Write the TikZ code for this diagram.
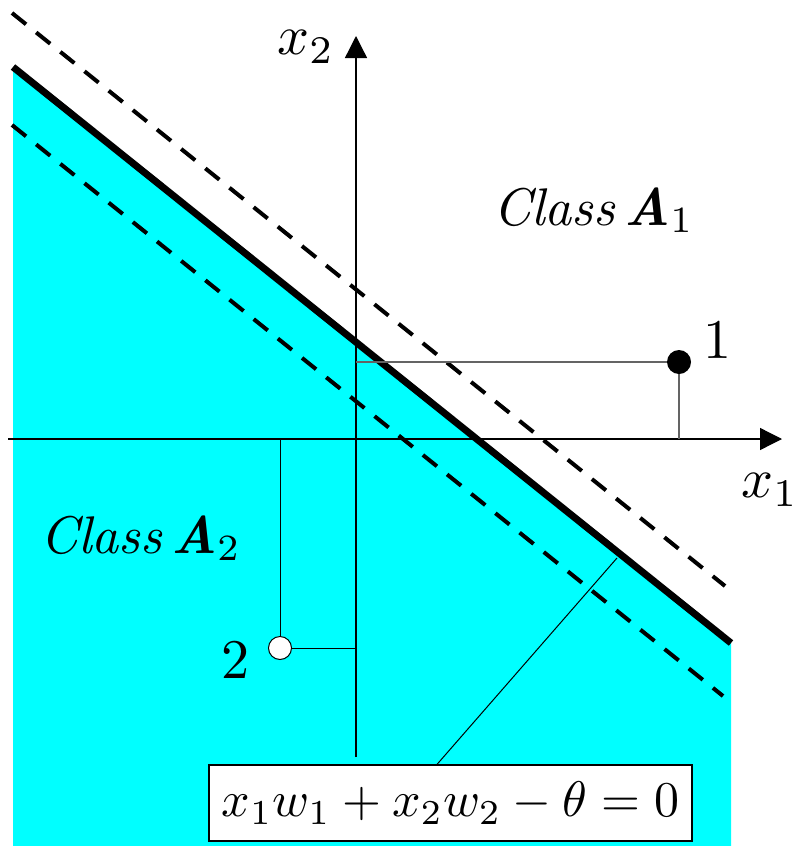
\documentclass[tikz,border=0pt]{standalone}
\usetikzlibrary{arrows.meta}
\definecolor{aqua}{RGB}{0,255,255}
\definecolor{guide}{RGB}{100,100,100}
\newcommand{\bigtxt}[1]{\scalebox{5.6}{#1}}
\begin{document}
\begin{tikzpicture}[x=1pt,y=-1pt,
  lbl/.style={inner sep=0pt},
  axis/.style={line width=1.3pt, -{Triangle[length=22pt,width=22pt]}},
  boundary/.style={line width=7pt},
  margin/.style={line width=4pt, dash pattern=on 18pt off 13pt},
  guideline/.style={line width=1.3pt},
  thin/.style={line width=1pt}]
\useasboundingbox (0,0) rectangle (796,846);
% class A2 region
\fill[aqua] (13,67) -- (731,643) -- (731,846) -- (13,846) -- cycle;
% coordinates
\coordinate (xl) at (8,439);
\coordinate (xr) at (782,439);
\coordinate (yb) at (356,757);
\coordinate (yt) at (356,36);
\coordinate (b1) at (13,67);
\coordinate (b2) at (731,643);
\coordinate (u1) at (12,13);
\coordinate (u2) at (725,586);
\coordinate (d1) at (12,125);
\coordinate (d2) at (723,696);
\coordinate (hit) at (617,558);
% lines
\draw[margin] (u1) -- (u2);
\draw[margin] (d1) -- (d2);
\draw[boundary] (b1) -- (b2);
\draw[axis] (xl) -- (xr);
\draw[axis] (yb) -- (yt);
% point 1
\node[circle, fill=black, minimum size=24pt, inner sep=0pt] (p1) at (679,362) {};
\draw[guideline, guide] (p1) -- (356,362);
\draw[guideline, guide] (p1) -- (679,439);
% point 2
\node[circle, draw=black, fill=white, line width=1pt, minimum size=23pt, inner sep=0pt] (p2) at (280,648) {};
\draw[thin] (p2) -- (280,439);
\draw[thin] (p2.east) -- (356,648);
% equation box
\node[draw=black, fill=white, line width=1.2pt, minimum width=483pt, minimum height=76pt, inner sep=0pt] (eq) at (450.5,803)
  {\scalebox{5.0}{$x_1w_1 + x_2w_2 - \theta = 0$}};
\draw[thin] (eq.north -| 437,0) -- (hit);
% labels
\node[lbl] (lx2) at (306,47) {\bigtxt{$x_2$}};
\node[lbl] (lx1) at (770,490) {\bigtxt{$x_1$}};
\node[lbl] (l1) at (717,340) {\bigtxt{1}};
\node[lbl] (l2) at (235,660) {\bigtxt{2}};
\node[lbl, anchor=base west] (ca1) at (493,225) {\scalebox{5.3}{\textit{Class}\,\textbf{\textit{A}}$_1$}};
\node[lbl, anchor=base west] (ca2) at (40,553) {\scalebox{5.3}{\textit{Class}\,\textbf{\textit{A}}$_2$}};
\end{tikzpicture}
\end{document}
